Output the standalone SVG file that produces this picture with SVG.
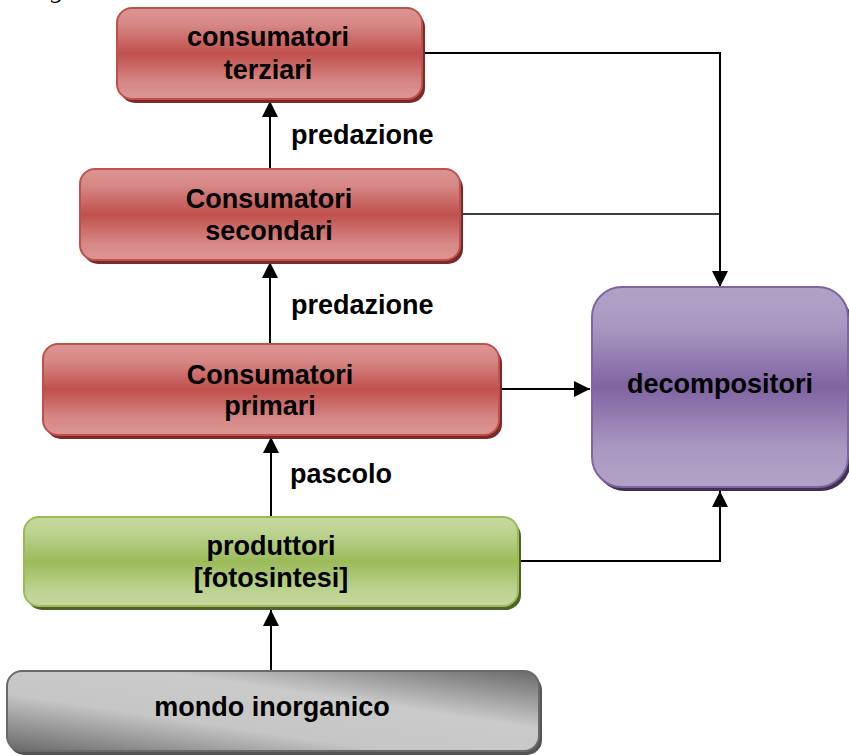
<svg xmlns="http://www.w3.org/2000/svg" width="849" height="756" viewBox="0 0 849 756">
  <style>
    .lbl { font-family: "Liberation Sans", Arial, sans-serif; font-weight: bold; font-size: 27px; fill: #000; }
    .c { text-anchor: middle; }
    .wire { fill: none; stroke: #000; stroke-width: 2; }
    .red { fill: url(#gRed); stroke: #c0504d; stroke-width: 2; }
    .red-sh { fill: #7a2a28; }
    .green { fill: url(#gGreen); stroke: #9bbb59; stroke-width: 2; }
    .green-sh { fill: #4f6228; }
    .purple { fill: url(#gPurple); stroke: #8064a2; stroke-width: 2; }
    .purple-sh { fill: #3f3151; }
    .gray { fill: url(#gGray); stroke: #6a6a6a; stroke-width: 2; }
    .gray-sh { fill: #555; }
  </style>
  <defs>
    <linearGradient id="gRed" x1="0" y1="0" x2="0" y2="1">
      <stop offset="0" stop-color="#dc9694"/>
      <stop offset="0.18" stop-color="#d68886"/>
      <stop offset="0.5" stop-color="#c0504d"/>
      <stop offset="0.82" stop-color="#d68886"/>
      <stop offset="1" stop-color="#dc9694"/>
    </linearGradient>
    <linearGradient id="gGreen" x1="0" y1="0" x2="0" y2="1">
      <stop offset="0" stop-color="#c6d9a0"/>
      <stop offset="0.18" stop-color="#bcd290"/>
      <stop offset="0.5" stop-color="#9bbb59"/>
      <stop offset="0.82" stop-color="#bcd290"/>
      <stop offset="1" stop-color="#c6d9a0"/>
    </linearGradient>
    <linearGradient id="gPurple" x1="0" y1="0" x2="0" y2="1">
      <stop offset="0" stop-color="#b2a2c7"/>
      <stop offset="0.2" stop-color="#a997c0"/>
      <stop offset="0.5" stop-color="#8064a2"/>
      <stop offset="0.8" stop-color="#a997c0"/>
      <stop offset="1" stop-color="#b2a2c7"/>
    </linearGradient>
    <linearGradient id="gGray" x1="0" y1="1" x2="1" y2="0">
      <stop offset="0" stop-color="#686868"/>
      <stop offset="0.36" stop-color="#c6c6c6"/>
      <stop offset="0.64" stop-color="#cacaca"/>
      <stop offset="1" stop-color="#686868"/>
    </linearGradient>
    <marker id="arrow" viewBox="0 0 16 16" refX="16" refY="8" markerWidth="16" markerHeight="16" markerUnits="userSpaceOnUse" orient="auto">
      <path d="M0,0 L16,8 L0,16 Z" fill="#000"/>
    </marker>
  </defs>

  <!-- fragment of text cut by the top edge -->
  <text x="51" y="-2" style="font-family: 'Liberation Serif', serif; font-style: italic; font-size: 26px;">g</text>

  <!-- connectors -->
  <g id="connectors">
    <line class="wire" x1="270" y1="169" x2="270" y2="101" marker-end="url(#arrow)"/>
    <line class="wire" x1="270" y1="344" x2="270" y2="262" marker-end="url(#arrow)"/>
    <line class="wire" x1="271" y1="517" x2="271" y2="437" marker-end="url(#arrow)"/>
    <line class="wire" x1="271" y1="671" x2="271" y2="610" marker-end="url(#arrow)"/>
    <polyline class="wire" points="422,53 720,53 720,287" marker-end="url(#arrow)"/>
    <line class="wire" x1="460" y1="214" x2="720" y2="214" style="stroke-width:1.5"/>
    <line class="wire" x1="499" y1="389" x2="590" y2="389" marker-end="url(#arrow)"/>
    <polyline class="wire" points="518,561 720,561 720,491" marker-end="url(#arrow)"/>
  </g>

  <!-- edge labels -->
  <text class="lbl" x="291" y="144">predazione</text>
  <text class="lbl" x="291" y="314">predazione</text>
  <text class="lbl" x="290" y="483">pascolo</text>

  <g id="terziari">
    <rect class="red-sh" x="120" y="12" width="305" height="91" rx="15"/>
    <rect class="red" x="117" y="8" width="305" height="91" rx="15"/>
    <text class="lbl c" x="268" y="46">consumatori</text>
    <text class="lbl c" x="268" y="79">terziari</text>
  </g>

  <g id="secondari">
    <rect class="red-sh" x="83" y="173" width="380" height="91" rx="15"/>
    <rect class="red" x="80" y="169" width="380" height="91" rx="15"/>
    <text class="lbl c" x="269" y="208">Consumatori</text>
    <text class="lbl c" x="269" y="240">secondari</text>
  </g>

  <g id="primari">
    <rect class="red-sh" x="46" y="348" width="456" height="91" rx="15"/>
    <rect class="red" x="43" y="344" width="456" height="91" rx="15"/>
    <text class="lbl c" x="270" y="384">Consumatori</text>
    <text class="lbl c" x="270" y="415">primari</text>
  </g>

  <g id="decompositori">
    <rect class="purple-sh" x="595" y="291" width="256" height="200" rx="30"/>
    <rect class="purple" x="592" y="287" width="256" height="200" rx="30"/>
    <text class="lbl c" x="720" y="393">decompositori</text>
  </g>

  <g id="produttori">
    <rect class="green-sh" x="27" y="521" width="494" height="89" rx="15"/>
    <rect class="green" x="24" y="517" width="494" height="89" rx="15"/>
    <text class="lbl c" x="271" y="555">produttori</text>
    <text class="lbl c" x="271" y="587">[fotosintesi]</text>
  </g>

  <g id="inorganico">
    <rect class="gray-sh" x="9" y="675" width="533" height="80" rx="15"/>
    <rect class="gray" x="7" y="671" width="532" height="80" rx="15"/>
    <text class="lbl c" x="272" y="716">mondo inorganico</text>
  </g>
</svg>
